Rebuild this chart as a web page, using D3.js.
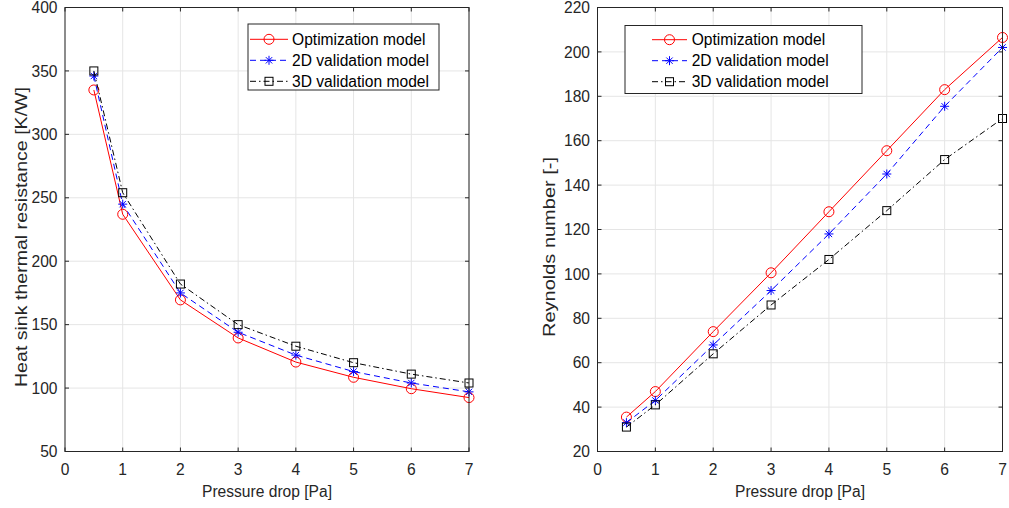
<!DOCTYPE html>
<html>
<head>
<meta charset="utf-8">
<script src="https://cdn.jsdelivr.net/npm/d3@7"></script>
<style>
  body { margin: 0; background: #fff; }
  svg { display: block; font-family: "Liberation Sans", Arial, Helvetica, sans-serif; }
</style>
</head>
<body>
<div id="chart"></div>
<script>
// 数据
const pressure = [0.5, 1, 2, 3, 4, 5, 6, 7];
const seriesNames = ["Optimization model", "2D validation model", "3D validation model"];

const resistOpt = [335, 237, 169.5, 139.5, 120.5, 108.5, 99.5, 92.5];
const resist2D = [346, 245, 175, 144, 126, 113, 104, 97];
const resist3D = [350, 254, 182, 150, 133, 120, 111, 104];

const reynoldsOpt = [35.5, 47, 74, 100.5, 128, 155.5, 183, 206.5];
const reynolds2D = [33, 43, 68, 92.5, 118, 145, 175.5, 202];
const reynolds3D = [31, 41, 64, 86, 106.5, 128.5, 151.5, 170];

const xTicks = [0, 1, 2, 3, 4, 5, 6, 7];
const leftYTicks = [50, 100, 150, 200, 250, 300, 350, 400];
const rightYTicks = [20, 40, 60, 80, 100, 120, 140, 160, 180, 200, 220];

const styles = [
    { color: "#ff0000", dash: null, marker: "circle" },
    { color: "#0000ff", dash: "6,4", marker: "star" },
    { color: "#000000", dash: "6,3,1.5,3", marker: "square" }
];

const width = 1009, height = 508;
const axisColor = "#262626";
const fs = 15.6;

const svg = d3.select("#chart").append("svg")
    .attr("width", width)
    .attr("height", height);

function drawMarker(g, type, x, y, color) {
    if (type === "circle") {
        g.append("circle").attr("cx", x).attr("cy", y).attr("r", 5)
            .attr("fill", "none").attr("stroke", color).attr("stroke-width", 1);
    } else if (type === "square") {
        g.append("rect").attr("x", x - 4).attr("y", y - 4)
            .attr("width", 8).attr("height", 8)
            .attr("fill", "none").attr("stroke", color).attr("stroke-width", 1);
    } else {
        const r = 4.5;
        [0, 45, 90, 135].forEach(a => {
            const t = a * Math.PI / 180;
            g.append("line")
                .attr("x1", x - r * Math.cos(t)).attr("y1", y - r * Math.sin(t))
                .attr("x2", x + r * Math.cos(t)).attr("y2", y + r * Math.sin(t))
                .attr("stroke", color).attr("stroke-width", 1);
        });
    }
}

function drawPanel(opts) {
    const { left, right, top, bottom, yDomain, yTicks, series, yLabel, legend } = opts;
    const x = d3.scaleLinear().domain([0, 7]).range([left, right]);
    const y = d3.scaleLinear().domain(yDomain).range([bottom, top]);
    const g = svg.append("g");

    // 网格
    g.selectAll(".gx").data(xTicks).enter().append("line")
        .attr("x1", d => x(d)).attr("x2", d => x(d))
        .attr("y1", top).attr("y2", bottom)
        .attr("stroke", "#e5e5e5").attr("stroke-width", 1);
    g.selectAll(".gy").data(yTicks).enter().append("line")
        .attr("x1", left).attr("x2", right)
        .attr("y1", d => y(d)).attr("y2", d => y(d))
        .attr("stroke", "#e5e5e5").attr("stroke-width", 1);

    // 数据线
    series.forEach((vals, i) => {
        const st = styles[i];
        const pts = pressure.map((p, j) => [x(p), y(vals[j])]);
        g.append("path")
            .attr("d", d3.line()(pts))
            .attr("fill", "none")
            .attr("stroke", st.color)
            .attr("stroke-width", 1)
            .attr("stroke-dasharray", st.dash);
        pts.forEach(p => drawMarker(g, st.marker, p[0], p[1], st.color));
    });

    // 坐标框和刻度
    g.append("rect").attr("x", left).attr("y", top)
        .attr("width", right - left).attr("height", bottom - top)
        .attr("fill", "none").attr("stroke", axisColor).attr("stroke-width", 1);
    const tl = 4;
    xTicks.forEach(t => {
        g.append("line").attr("x1", x(t)).attr("x2", x(t)).attr("y1", bottom).attr("y2", bottom - tl).attr("stroke", axisColor);
        g.append("line").attr("x1", x(t)).attr("x2", x(t)).attr("y1", top).attr("y2", top + tl).attr("stroke", axisColor);
        g.append("text").attr("x", x(t)).attr("y", bottom + 23.5)
            .attr("text-anchor", "middle").attr("font-size", fs).attr("fill", axisColor).text(t);
    });
    yTicks.forEach(t => {
        g.append("line").attr("x1", left).attr("x2", left + tl).attr("y1", y(t)).attr("y2", y(t)).attr("stroke", axisColor);
        g.append("line").attr("x1", right).attr("x2", right - tl).attr("y1", y(t)).attr("y2", y(t)).attr("stroke", axisColor);
        g.append("text").attr("x", left - 7.5).attr("y", y(t)).attr("dy", "0.36em")
            .attr("text-anchor", "end").attr("font-size", fs).attr("fill", axisColor).text(t);
    });

    // 轴标签
    g.append("text").attr("x", (left + right) / 2).attr("y", 497)
        .attr("text-anchor", "middle").attr("font-size", fs).attr("fill", axisColor)
        .text("Pressure drop [Pa]");
    g.append("text")
        .attr("transform", `translate(${opts.yLabelX}, ${opts.yLabelY}) rotate(-90)`)
        .attr("text-anchor", "middle").attr("font-size", 16.3).attr("fill", axisColor)
        .attr("textLength", opts.yLabelLen).attr("lengthAdjust", "spacingAndGlyphs")
        .text(yLabel);

    // 图例
    const lg = g.append("g");
    lg.append("rect").attr("x", legend.x).attr("y", legend.y)
        .attr("width", legend.w).attr("height", legend.h)
        .attr("fill", "#fff").attr("stroke", axisColor).attr("stroke-width", 1);
    seriesNames.forEach((name, i) => {
        const st = styles[i];
        const ry = legend.y + legend.row0 + i * 21;
        lg.append("line").attr("x1", legend.x + legend.l1).attr("x2", legend.x + legend.l2)
            .attr("y1", ry).attr("y2", ry)
            .attr("stroke", st.color).attr("stroke-width", 1)
            .attr("stroke-dasharray", st.dash);
        drawMarker(lg, st.marker, legend.x + (legend.l1 + legend.l2) / 2, ry, st.color);
        lg.append("text").attr("x", legend.x + legend.tx).attr("y", ry).attr("dy", "0.36em")
            .attr("font-size", fs).attr("fill", "#000").text(name);
    });
}

drawPanel({
    left: 65, right: 469, top: 7.5, bottom: 451.5,
    yDomain: [50, 400], yTicks: leftYTicks,
    series: [resistOpt, resist2D, resist3D],
    yLabel: "Heat sink thermal resistance [K/W]", yLabelX: 27, yLabelY: 237, yLabelLen: 300,
    legend: { x: 248, y: 24, w: 191, h: 66, row0: 15.3, l1: 2, l2: 40, tx: 44 }
});

drawPanel({
    left: 597.5, right: 1002.5, top: 7.5, bottom: 451.5,
    yDomain: [20, 220], yTicks: rightYTicks,
    series: [reynoldsOpt, reynolds2D, reynolds3D],
    yLabel: "Reynolds number [-]", yLabelX: 554.5, yLabelY: 247, yLabelLen: 180,
    legend: { x: 625, y: 25.5, w: 237, h: 68, row0: 14.2, l1: 27, l2: 62, tx: 66.7 }
});
</script>
</body>
</html>
